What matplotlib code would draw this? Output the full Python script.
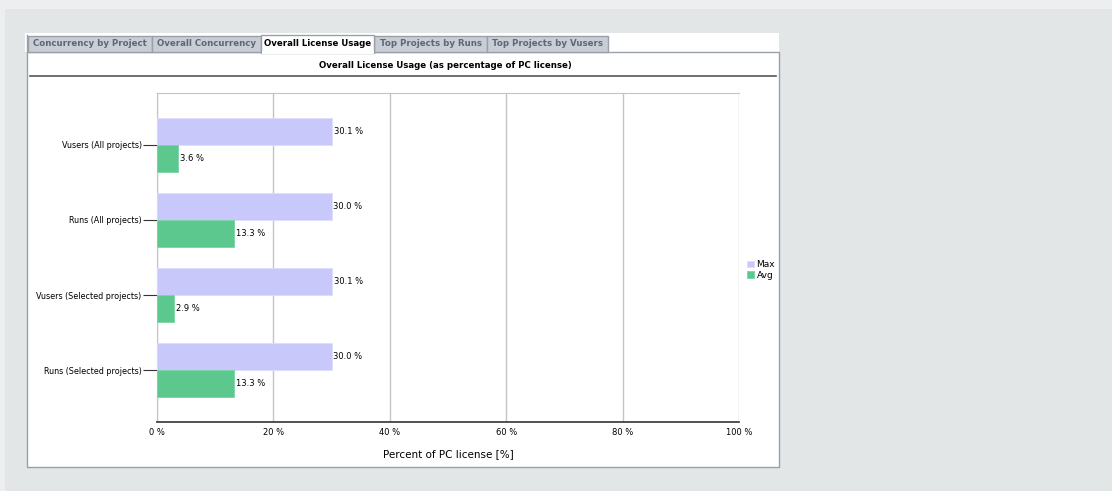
#! Python3
# Overall License Usage - horizontal grouped bar chart inside a tabbed panel

import matplotlib
matplotlib.use('Agg')
import matplotlib.pyplot as plt
from matplotlib.patches import Rectangle
import numpy as np

# Data
categories = ['Vusers (All projects)', 'Runs (All projects)',
              'Vusers (Selected projects)', 'Runs (Selected projects)']
max_vals = [30.1, 30.0, 30.1, 30.0]
avg_vals = [3.6, 13.3, 2.9, 13.3]
tabs = ['Concurrency by Project', 'Overall Concurrency', 'Overall License Usage',
        'Top Projects by Runs', 'Top Projects by Vusers']
active_tab = 2
xticks = [0, 20, 40, 60, 80, 100]

W, H = 1112, 491
fig = plt.figure(figsize=(W / 100, H / 100), dpi=100)
fig.patch.set_facecolor('#eceeef')


def px_rect(x0, y0, x1, y1, **kw):
    # rectangle in pixel coords (origin top-left)
    r = Rectangle((x0 / W, 1 - y1 / H), (x1 - x0) / W, (y1 - y0) / H,
                  transform=fig.transFigure, **kw)
    fig.patches.append(r)


# page background and white panel
px_rect(5, 9, W, H, facecolor='#e3e6e7', edgecolor='none', zorder=0)
px_rect(25, 33, 779, 52, facecolor='white', edgecolor='none', zorder=1)
px_rect(27, 52, 779, 467, facecolor='white', edgecolor='#9aa0a8', lw=1, zorder=1)
fig.add_artist(plt.Line2D([27 / W, 27 / W], [1 - 35 / H, 1 - 52 / H],
                          transform=fig.transFigure, color='#9aa0a8', lw=1))

# tabs
tab_edges = [28, 152, 261, 374, 487, 608]
for i, name in enumerate(tabs):
    x0, x1 = tab_edges[i], tab_edges[i + 1]
    if i == active_tab:
        px_rect(x0, 35, x1, 53, facecolor='white', edgecolor='#9aa0a8', lw=1, zorder=3)
        px_rect(x0 + 0.5, 51, x1 - 0.5, 54, facecolor='white', edgecolor='none', zorder=4)
        col = 'black'
    else:
        px_rect(x0, 36, x1, 52, facecolor='#c9cdd4', edgecolor='#9aa0a8', lw=1, zorder=2)
        col = '#5a6878'
    fig.text((x0 + x1) / 2 / W, 1 - 44 / H, name, ha='center', va='center',
             fontsize=6.2, fontweight='bold', color=col, zorder=5)

# chart title and rule
fig.text(445 / W, 1 - 65 / H, 'Overall License Usage (as percentage of PC license)',
         ha='center', va='center', fontsize=6.2, fontweight='bold', color='black')
fig.add_artist(plt.Line2D([30 / W, 776 / W], [1 - 76 / H, 1 - 76 / H],
                          transform=fig.transFigure, color='#555555', lw=1.2))

# plot area
ax = fig.add_axes([157 / W, 1 - 422 / H, 582 / W, 329 / H])
ax.set_zorder(10)
ax.patch.set_facecolor('white')
y = np.arange(len(categories))
h = 0.36
max_color = '#c8c8fa'
avg_color = '#5cc88e'
ax.barh(y - h / 2, max_vals, height=h, color=max_color, edgecolor='#dcdcfc', lw=0.6,
        label='Max', zorder=3)
ax.barh(y + h / 2, avg_vals, height=h, color=avg_color, edgecolor='#7ad4a4', lw=0.6,
        label='Avg', zorder=3)

for yi, v in zip(y, max_vals):
    ax.text(v + 0.3, yi - h / 2, '%.1f %%' % v, va='center', ha='left', fontsize=6)
for yi, v in zip(y, avg_vals):
    ax.text(v + 0.3, yi + h / 2, '%.1f %%' % v, va='center', ha='left', fontsize=6)

ax.set_xlim(0, 100)
ax.set_ylim(3.69, -0.69)
ax.set_xticks(xticks)
ax.set_xticklabels(['%d %%' % t for t in xticks], fontsize=6)
ax.set_yticks(y)
ax.set_yticklabels(categories, fontsize=5.8)
ax.tick_params(axis='y', length=10, width=0.8, color='#333333', pad=1)
ax.tick_params(axis='x', length=0, pad=4)
ax.grid(axis='x', color='#c4c4c4', lw=1, zorder=0)
ax.set_axisbelow(True)
for s in ['left', 'top', 'right']:
    ax.spines[s].set_color('#c4c4c4')
ax.spines['right'].set_visible(False)
ax.spines['bottom'].set_color('#333333')
ax.spines['bottom'].set_linewidth(1.2)
ax.set_xlabel('Percent of PC license [%]', fontsize=7.5, labelpad=9)

# legend at the right of the plot
fig.legend(handles=ax.patches[:1] + ax.patches[4:5], labels=['Max', 'Avg'],
           loc='center left', bbox_to_anchor=(742 / W, 1 - 270 / H),
           frameon=False, fontsize=6.5, handlelength=0.8, handleheight=0.8,
           handletextpad=0.3, labelspacing=0.2, borderpad=0)

fig.savefig('out.png', dpi=100, facecolor=fig.get_facecolor())
